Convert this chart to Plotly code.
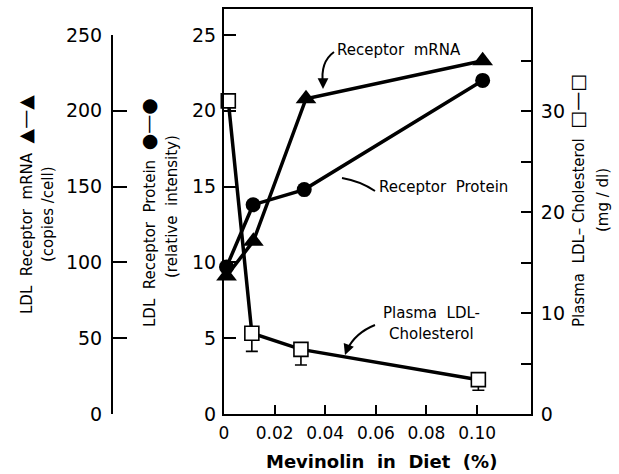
import plotly.graph_objects as go

# ---- data ----
mevinolin_protein = [0.001, 0.0115, 0.0317, 0.1022]
receptor_protein = [9.7, 13.8, 14.8, 22.0]

mevinolin_mrna = [0.001, 0.0116, 0.0324, 0.1022]
receptor_mrna = [91, 114, 208, 233]

mevinolin_chol = [0.0017, 0.011, 0.0304, 0.1005]
plasma_ldl_chol = [31.0, 8.0, 6.4, 3.4]
plasma_ldl_err = [0, 1.8, 1.55, 1.05]

x_tickvals = [0, 0.02, 0.04, 0.06, 0.08, 0.10]
x_ticktext = ["0", "0.02", "0.04", "0.06", "0.08", "0.10"]
protein_ticks = [0, 5, 10, 15, 20, 25]
mrna_ticks = [0, 50, 100, 150, 200, 250]
chol_tickvals = [0, 5, 10, 15, 20, 25, 30, 35]
chol_ticktext = ["0", "", "10", "", "20", "", "30", ""]

W, H = 619, 474
def px(x):
    return x / W
def py(y):
    return 1 - y / H

FONT = "DejaVu Sans"
BLACK = "black"

fig = go.Figure()

fig.add_trace(go.Scatter(
    x=mevinolin_mrna, y=receptor_mrna, xaxis="x", yaxis="y2",
    mode="lines+markers", cliponaxis=False,
    line=dict(color=BLACK, width=3.5),
    marker=dict(symbol="triangle-up", size=18, color=BLACK),
    showlegend=False))

fig.add_trace(go.Scatter(
    x=mevinolin_protein, y=receptor_protein, xaxis="x", yaxis="y",
    mode="lines+markers", cliponaxis=False,
    line=dict(color=BLACK, width=3.5),
    marker=dict(symbol="circle", size=15, color=BLACK),
    showlegend=False))

fig.add_trace(go.Scatter(
    x=mevinolin_chol, y=plasma_ldl_chol, xaxis="x", yaxis="y3",
    mode="lines+markers", cliponaxis=False,
    line=dict(color=BLACK, width=3.5),
    marker=dict(symbol="square", size=14, color="white",
                line=dict(color=BLACK, width=1.6)),
    error_y=dict(type="data", symmetric=False,
                 array=[0] * len(plasma_ldl_err), arrayminus=plasma_ldl_err,
                 color=BLACK, thickness=1.6, width=6),
    showlegend=False))

x0, x1 = 224, 531
ytop, ybot = 9, 414

fig.update_layout(
    width=W, height=H,
    margin=dict(l=0, r=0, t=0, b=0),
    paper_bgcolor="white", plot_bgcolor="rgba(0,0,0,0)",
    font=dict(family=FONT, color=BLACK, size=16),
    xaxis=dict(
        domain=[px(x0), px(x1)], range=[0, 0.1213],
        tickvals=x_tickvals, ticktext=x_ticktext,
        ticks="inside", ticklen=9, tickwidth=2, tickcolor=BLACK,
        showline=True, linewidth=2, linecolor=BLACK, mirror=True,
        showgrid=False, zeroline=False, anchor="y", automargin=False,
        tickfont=dict(size=17, family=FONT), ticklabelstandoff=3),
    yaxis=dict(
        domain=[py(ybot), py(ytop)], range=[0, 26.71],
        tickvals=protein_ticks,
        ticks="inside", ticklen=12, tickwidth=2, tickcolor=BLACK,
        showline=True, linewidth=2, linecolor=BLACK,
        showgrid=False, zeroline=False, anchor="x", automargin=False,
        tickfont=dict(size=19, family=FONT), ticklabelstandoff=2),
    yaxis2=dict(
        domain=[py(ybot), py(35)], range=[0, 250],
        tickvals=mrna_ticks, anchor="free", position=px(112), side="left",
        ticks="inside", ticklen=14, tickwidth=2, tickcolor=BLACK,
        showline=True, linewidth=2, linecolor=BLACK,
        showgrid=False, zeroline=False, automargin=False,
        tickfont=dict(size=19, family=FONT), ticklabelstandoff=5),
    yaxis3=dict(
        overlaying="y", side="right", anchor="x", range=[0, 40.1],
        tickvals=chol_tickvals, ticktext=chol_ticktext,
        ticks="inside", ticklen=10, tickwidth=2, tickcolor=BLACK,
        showline=True, linewidth=2, linecolor=BLACK,
        showgrid=False, zeroline=False, automargin=False,
        tickfont=dict(size=19, family=FONT), ticklabelstandoff=4),
)

def note(text, x, y, size=15, angle=0, weight="normal"):
    fig.add_annotation(text=text, x=px(x), y=py(y), xref="paper", yref="paper",
                       showarrow=False, textangle=angle, xanchor="center",
                       yanchor="middle", font=dict(size=size, family=FONT,
                                                   color=BLACK, weight=weight))

BIG = "<span style='font-size:19px'>{}</span>"
# axis titles
note("LDL  Receptor  mRNA  " + BIG.format("▲—▲"), 25, 205, angle=-90)
note("(copies /cell)", 48, 214, angle=-90)
note("LDL  Receptor  Protein  " + BIG.format("●—●"), 148, 213, angle=-90)
note("(relative  intensity)", 172, 207, angle=-90)
note("Plasma  LDL– Cholesterol  " + BIG.format("□—□"), 577, 201, angle=-90)
note("(mg / dl)", 603, 200, angle=-90)
note("Mevinolin  in  Diet  (%)", 381, 461, size=18, weight="bold")

# labels
note("Receptor  mRNA", 399, 50)
note("Receptor  Protein", 443, 187)
note("Plasma  LDL-", 431, 313)
note("Cholesterol", 431, 334)

# curved leaders
def curve(p0, c, p1):
    path = "M {} {} Q {} {} {} {}".format(px(p0[0]), py(p0[1]), px(c[0]), py(c[1]),
                                          px(p1[0]), py(p1[1]))
    fig.add_shape(type="path", path=path, xref="paper", yref="paper",
                  line=dict(color=BLACK, width=2))

def head(tip, tail):
    fig.add_annotation(x=px(tip[0]), y=py(tip[1]), xref="paper", yref="paper",
                       ax=tail[0] - tip[0], ay=tail[1] - tip[1], text="",
                       showarrow=True, arrowhead=2, arrowsize=1.2, arrowwidth=1.8,
                       arrowcolor=BLACK, standoff=0)

curve((334, 52), (320, 62), (323, 84))
head((323, 89), (323, 82))
curve((375, 191), (360, 181), (342, 178))
curve((375, 325), (355, 333), (347, 350))
head((345, 355), (348, 347))

fig.write_html("out.html", config={"displayModeBar": False},
               post_script="document.body.style.margin='0';document.body.style.overflow='hidden';")
